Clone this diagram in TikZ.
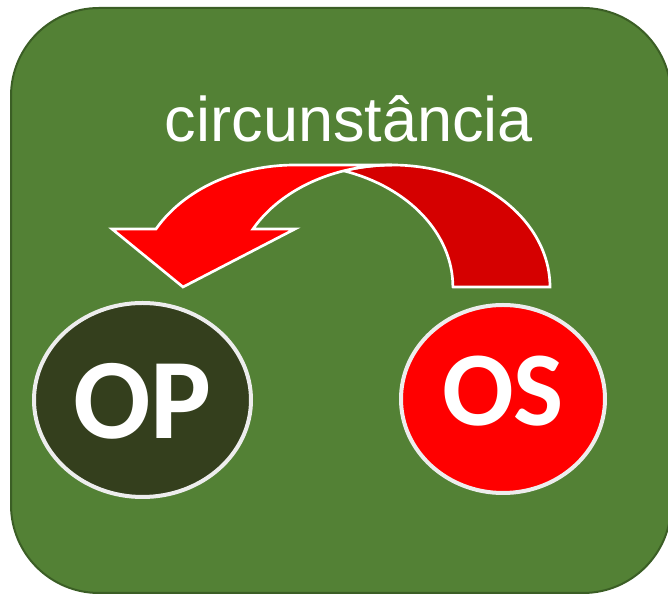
\documentclass[tikz,border=0pt]{standalone}
\usepackage{fontspec}
\newfontfamily\labelfont{Liberation Sans}
\newfontfamily\badgefont{Carlito}
\usepackage{tikz}
\usetikzlibrary{shapes.geometric}

\definecolor{panelgreen}{HTML}{538135}
\definecolor{paneledge}{HTML}{3B5E25}
\definecolor{opdark}{HTML}{343F1D}
\definecolor{osred}{HTML}{FF0000}
\definecolor{tailred}{HTML}{D50000}
\definecolor{ringgray}{HTML}{EDEDED}

\tikzstyle{panel} = [fill=panelgreen, draw=paneledge, line width=1.5pt, rounded corners=66pt]
\tikzstyle{title} = [anchor=base, text=white, font=\labelfont\fontsize{47.3}{50}\selectfont]
\tikzstyle{badge} = [ellipse, draw=ringgray, line width=3pt, inner sep=0pt, text=white, text depth=0pt]
\tikzstyle{band} = [draw=white, line width=2pt, line join=miter]

\begin{document}
\begin{tikzpicture}[x=0.75pt, y=0.75pt]

\useasboundingbox (0,0) rectangle (668,595);
\clip (0,0) rectangle (668,595);
\draw [panel] (11,2) rectangle (671,587);

\node (word) [title] at (349,453) {circunstância};

% back part of the curved arrow
\draw [band, fill=tailred] (453,308) -- (550,308)
  arc[start angle=0, end angle=107.8, x radius=158, y radius=122]
  arc[start angle=72, end angle=0, x radius=158, y radius=122] -- cycle;
% front part with the head
\draw [band, fill=osred] (295,366) -- (253,366)
  arc[start angle=151.6, end angle=90, x radius=158, y radius=122] -- (295,430)
  arc[start angle=90, end angle=151.6, x radius=158, y radius=122]
  -- (112,366) -- (183,308) -- cycle;

\node (op) [badge, fill=opdark, minimum width=162.75pt, minimum height=145.5pt,
  font=\badgefont\bfseries\fontsize{86}{86}\selectfont, text height=58pt] at (142.5,195) {OP};
\node (os) [badge, fill=osred, minimum width=153pt, minimum height=141pt,
  font=\badgefont\bfseries\fontsize{79.5}{80}\selectfont, text height=40.4pt] at (503,196) {OS};

\end{tikzpicture}
\end{document}
